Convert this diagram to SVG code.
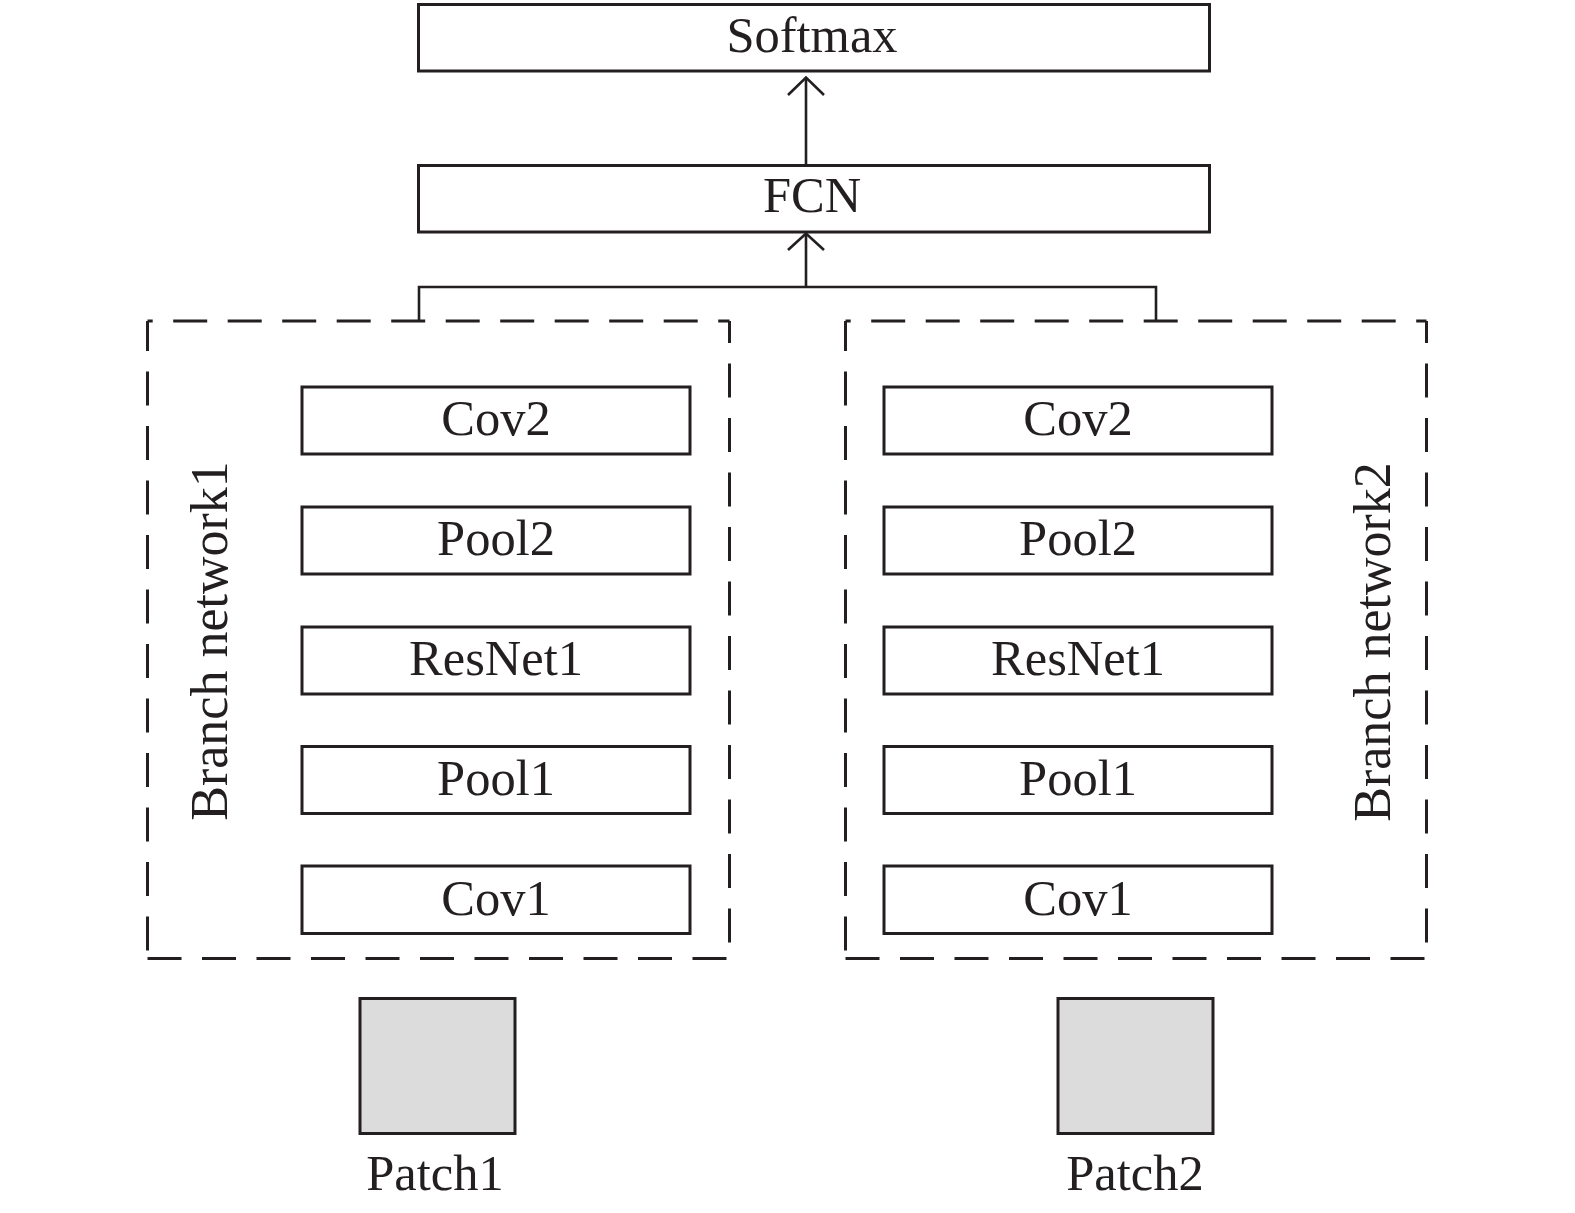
<svg xmlns="http://www.w3.org/2000/svg" width="1575" height="1213" viewBox="0 0 1575 1213">
  <style>
    .box { fill: #ffffff; stroke: #231f20; stroke-width: 3; }
    .patch { fill: #dcdcdc; stroke: #231f20; stroke-width: 3; }
    .lbl { font-family: "Liberation Serif", "Times New Roman", serif; font-size: 50.5px; fill: #231f20; text-anchor: middle; }
    .side { font-family: "Liberation Serif", "Times New Roman", serif; font-size: 52px; fill: #231f20; text-anchor: middle; }
    .dash { stroke: #231f20; stroke-width: 3; fill: none; stroke-dasharray: 34 20.5; }
    .conn { stroke: #231f20; stroke-width: 2.6; fill: none; }
  </style>
  <rect width="1575" height="1213" fill="#ffffff"/>

  <g id="softmax">
    <rect class="box" x="418.5" y="4.5" width="791" height="66.5"/>
    <text class="lbl" x="812" y="52">Softmax</text>
  </g>
  <g id="fcn">
    <rect class="box" x="418.5" y="165.5" width="791" height="66.5"/>
    <text class="lbl" x="812" y="212">FCN</text>
  </g>

  <g id="branch1">
    <line class="dash" x1="147.5" y1="321" x2="729.5" y2="321" stroke-dashoffset="28.8"/>
    <line class="dash" x1="147.5" y1="321" x2="147.5" y2="958.5" stroke-dashoffset="4"/>
    <line class="dash" x1="147.5" y1="958.5" x2="729.5" y2="958.5" stroke-dashoffset="0"/>
    <line class="dash" x1="729.5" y1="321" x2="729.5" y2="958.5" stroke-dashoffset="12"/>
    <text class="side" transform="translate(227 641) rotate(-90)">Branch network1</text>
  </g>
  <g id="branch2">
    <line class="dash" x1="845.5" y1="321" x2="1426.5" y2="321" stroke-dashoffset="28.8"/>
    <line class="dash" x1="845.5" y1="321" x2="845.5" y2="958.5" stroke-dashoffset="4"/>
    <line class="dash" x1="845.5" y1="958.5" x2="1426.5" y2="958.5" stroke-dashoffset="0"/>
    <line class="dash" x1="1426.5" y1="321" x2="1426.5" y2="958.5" stroke-dashoffset="12"/>
    <text class="side" transform="translate(1390 642) rotate(-90)">Branch network2</text>
  </g>

  <g id="b1-cov2"><rect class="box" x="302" y="387" width="388" height="67"/><text class="lbl" x="496" y="435">Cov2</text></g>
  <g id="b1-pool2"><rect class="box" x="302" y="507" width="388" height="67"/><text class="lbl" x="496" y="555">Pool2</text></g>
  <g id="b1-resnet1"><rect class="box" x="302" y="627" width="388" height="67"/><text class="lbl" x="496" y="675">ResNet1</text></g>
  <g id="b1-pool1"><rect class="box" x="302" y="746.5" width="388" height="67"/><text class="lbl" x="496" y="794.5">Pool1</text></g>
  <g id="b1-cov1"><rect class="box" x="302" y="866" width="388" height="67.5"/><text class="lbl" x="496" y="914.5">Cov1</text></g>

  <g id="b2-cov2"><rect class="box" x="884" y="387" width="388" height="67"/><text class="lbl" x="1078" y="435">Cov2</text></g>
  <g id="b2-pool2"><rect class="box" x="884" y="507" width="388" height="67"/><text class="lbl" x="1078" y="555">Pool2</text></g>
  <g id="b2-resnet1"><rect class="box" x="884" y="627" width="388" height="67"/><text class="lbl" x="1078" y="675">ResNet1</text></g>
  <g id="b2-pool1"><rect class="box" x="884" y="746.5" width="388" height="67"/><text class="lbl" x="1078" y="794.5">Pool1</text></g>
  <g id="b2-cov1"><rect class="box" x="884" y="866" width="388" height="67.5"/><text class="lbl" x="1078" y="914.5">Cov1</text></g>

  <g id="patch1">
    <rect class="patch" x="360" y="998.5" width="155" height="135"/>
    <text class="lbl" x="435" y="1190">Patch1</text>
  </g>
  <g id="patch2">
    <rect class="patch" x="1058" y="998.5" width="155" height="135"/>
    <text class="lbl" x="1135" y="1190">Patch2</text>
  </g>

  <g id="connectors">
    <line class="conn" x1="806" y1="165.5" x2="806" y2="78"/>
    <polyline class="conn" points="788,95 806,77.5 824,95"/>
    <polyline class="conn" points="419,321 419,287 1156,287 1156,321"/>
    <line class="conn" x1="806" y1="287" x2="806" y2="234"/>
    <polyline class="conn" points="788,250 806,233.5 824,250"/>
  </g>
</svg>
